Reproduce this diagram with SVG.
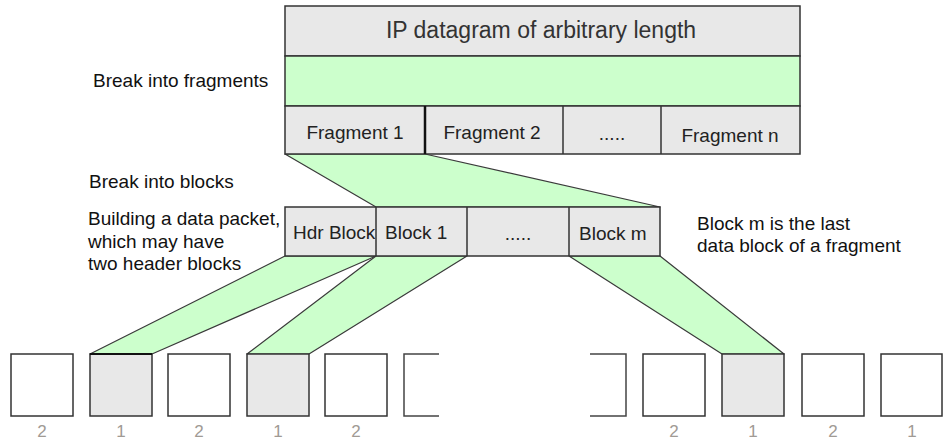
<svg xmlns="http://www.w3.org/2000/svg" width="944" height="441" viewBox="0 0 944 441">
<style>
.box{fill:#e8e8e8;stroke:#333;stroke-width:1.5}
.green{fill:#ccffcc;stroke:#333;stroke-width:1.5}
.sq{fill:#fff;stroke:#333;stroke-width:1.5}
.sqg{fill:#e8e8e8;stroke:#333;stroke-width:1.5}
.trap{fill:#ccffcc;stroke:#3a3a3a;stroke-width:1.2;stroke-linejoin:round}
.div{stroke:#333;stroke-width:1.5}
.bt{font-family:"Liberation Sans",Arial,sans-serif;font-size:19px;fill:#222}
.lbl{font-family:"Liberation Sans",Arial,sans-serif;font-size:19px;fill:#111}
.num{font-family:"Liberation Sans",Arial,sans-serif;font-size:17px;fill:#a09a94;text-anchor:middle}
.brk{fill:none;stroke:#444;stroke-width:1.5}
</style>
<rect width="944" height="441" fill="#fff"/>
<g id="connectors">
<polygon class="trap" points="285,154 425,154 660,207 376,207"/>
<polygon class="trap" points="285,256 376,256 152,354 90,354"/>
<polygon class="trap" points="376,256 467,256 309,354 247,354"/>
<polygon class="trap" points="569,256 660,256 784,354 722,354"/>
</g>
<g id="datagram">
<rect class="box" x="285" y="6" width="515" height="50"/>
<text x="541" y="37.5" text-anchor="middle" style="font-family:'Liberation Sans',Arial,sans-serif;font-size:23px;fill:#333">IP datagram of arbitrary length</text>
</g>
<g id="fragment-band">
<rect class="green" x="285" y="56" width="515" height="50"/>
</g>
<g id="fragments">
<rect class="box" x="285" y="106" width="515" height="48"/>
<line x1="425" y1="106" x2="425" y2="154" stroke="#111" stroke-width="2.5"/>
<line class="div" x1="563" y1="106" x2="563" y2="154"/>
<line class="div" x1="661" y1="106" x2="661" y2="154"/>
<text class="bt" x="355" y="139" text-anchor="middle">Fragment 1</text>
<text class="bt" x="492" y="139" text-anchor="middle">Fragment 2</text>
<text class="bt" x="612" y="140" text-anchor="middle">.....</text>
<text class="bt" x="730" y="142" text-anchor="middle">Fragment n</text>
</g>
<g id="blocks">
<rect class="box" x="285" y="207" width="375" height="49"/>
<text class="bt" x="293" y="239">Hdr Block</text>
<rect x="377" y="208" width="89" height="47" fill="#e8e8e8"/>
<line class="div" x1="376" y1="207" x2="376" y2="256"/>
<line class="div" x1="467" y1="207" x2="467" y2="256"/>
<line class="div" x1="569" y1="207" x2="569" y2="256"/>
<text class="bt" x="385" y="239">Block 1</text>
<text class="bt" x="518" y="240" text-anchor="middle">.....</text>
<text class="bt" x="579" y="240">Block m</text>
</g>
<g id="labels">
<text class="lbl" x="93" y="87">Break into fragments</text>
<text class="lbl" x="89" y="188">Break into blocks</text>
<text class="lbl" x="88" y="225">Building a data packet,</text>
<text class="lbl" x="88" y="248">which may have</text>
<text class="lbl" x="88" y="270">two header blocks</text>
<text class="lbl" x="697" y="230">Block m is the last</text>
<text class="lbl" x="697" y="252">data block of a fragment</text>
</g>
<g id="packets">
<rect class="sq" x="11" y="354" width="62" height="62"/>
<rect class="sqg" x="90" y="354" width="62" height="62"/>
<rect class="sq" x="168" y="354" width="62" height="62"/>
<rect class="sqg" x="247" y="354" width="62" height="62"/>
<rect class="sq" x="325" y="354" width="62" height="62"/>
<path class="brk" d="M439,354 H404 V416 H439"/>
<path class="brk" d="M590,354 H626 V416 H590"/>
<rect class="sq" x="643" y="354" width="62" height="62"/>
<rect class="sqg" x="722" y="354" width="62" height="62"/>
<rect class="sq" x="802" y="354" width="62" height="62"/>
<rect class="sq" x="881" y="354" width="61" height="62"/>
<line x1="90" y1="354" x2="152" y2="354" stroke="#111" stroke-width="2"/>
<text class="num" x="42" y="437">2</text>
<text class="num" x="121" y="437">1</text>
<text class="num" x="199" y="437">2</text>
<text class="num" x="278" y="437">1</text>
<text class="num" x="356" y="437">2</text>
<text class="num" x="674" y="437">2</text>
<text class="num" x="753" y="437">1</text>
<text class="num" x="833" y="437">2</text>
<text class="num" x="912" y="437">1</text>
</g>
</svg>
